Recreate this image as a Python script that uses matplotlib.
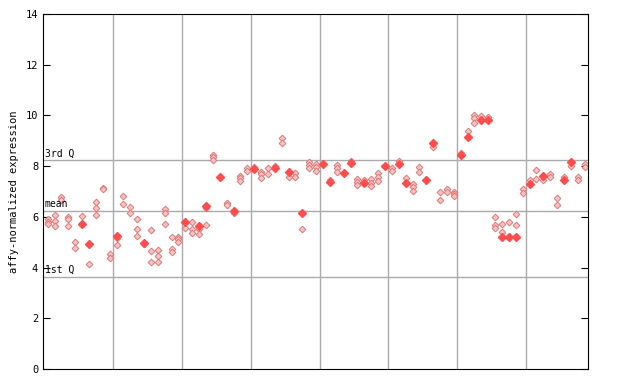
import numpy as np
import matplotlib
matplotlib.use("Agg")
import matplotlib.pyplot as plt

# replicate points (checkered markers), one list per sample
hollow = [
    [5.9, 5.8, 5.7], [6.07, 5.84, 5.65], [6.77, 6.66], [5.98, 5.9, 5.63],
    [5.0, 4.76], [6.03], [4.13], [6.59, 6.34, 6.07], [7.15, 7.09], [4.54, 4.36],
    [5.15, 4.88], [6.81, 6.51], [6.4, 6.14], [5.9, 5.51, 5.23], [4.92],
    [5.48, 4.64, 4.22], [4.69, 4.47, 4.22], [6.32, 6.16, 5.71], [5.19, 4.73, 4.63], [5.22, 5.13, 5.02],
    [5.57], [5.8, 5.52, 5.35], [5.52, 5.31], [6.34, 5.67], [8.44, 8.37, 8.24],
    [], [6.56, 6.45], [6.14], [7.62, 7.52, 7.43], [7.91, 7.82],
    [7.98], [7.77, 7.68, 7.52], [7.91, 7.69], [8.0], [9.1, 8.9],
    [7.58], [7.72, 7.58], [5.51], [8.18, 8.04, 7.91], [8.07, 7.95, 7.82],
    [], [7.45], [8.04, 7.91, 7.78], [], [8.21],
    [7.48, 7.37, 7.26], [7.45], [7.48, 7.35, 7.22], [7.74, 7.58, 7.43], [],
    [7.91, 7.82], [8.21], [7.52], [7.3, 7.16, 7.03], [7.95, 7.78],
    [], [8.77], [6.97, 6.66], [7.09, 6.99], [6.99, 6.9, 6.82],
    [8.53], [9.39], [10.02, 9.89, 9.71], [9.98], [9.93],
    [5.98, 5.68, 5.55], [5.72, 5.39], [5.81], [6.11, 5.68], [7.09, 6.93],
    [7.45], [7.85, 7.48], [7.45], [7.69, 7.58], [6.73, 6.47],
    [7.56], [8.02], [7.56, 7.45], [8.08, 7.98],
]
# solid markers, None where the sample has none
filled = [
    None, None, None, None, None, 5.72, 4.93, None, None, None,
    5.23, None, None, None, 4.96, None, None, None, None, None,
    5.81, None, 5.65, 6.41, None, 7.58, None, 6.24, None, None,
    7.89, None, None, 7.91, None, 7.78, None, 6.16, None, None,
    8.07, 7.36, None, 7.72, 8.11, None, 7.32, None, None, 8.02,
    None, 8.08, 7.35, None, None, 7.45, 8.93, None, None, None,
    8.44, 9.16, None, 9.82, 9.82, None, 5.22, 5.22, 5.19, None,
    7.3, None, 7.61, None, None, 7.45, 8.18, None, None,
]
q3, mean_val, q1 = 8.23, 6.23, 3.63

fig = plt.figure(figsize=(6.4, 3.84), dpi=100)
ax = fig.add_axes([0.0672, 0.039, 0.8516, 0.9245])

for xg in np.arange(9.5, 70, 10):
    ax.axvline(xg, color="#aaaaaa", lw=1, zorder=1)
for yq in (q3, mean_val, q1):
    ax.axhline(yq, color="#aaaaaa", lw=1, zorder=1)

hx = [i for i, vals in enumerate(hollow) for v in vals]
hy = [v for vals in hollow for v in vals]
ax.plot(hx, hy, "D", ms=3.4, mfc="#f4c4c4", mec="#e07878", mew=0.7, ls="none", zorder=2)
fx = [i for i, v in enumerate(filled) if v is not None]
fy = [v for v in filled if v is not None]
ax.plot(fx, fy, "D", ms=4.2, color="#ff4d4d", ls="none", zorder=3)

mono = "DejaVu Sans Mono"
for yq, lab in ((q3, "3rd Q"), (mean_val, "mean"), (q1, "1st Q")):
    ax.text(0.003, yq + 0.08, lab, transform=ax.get_yaxis_transform(),
            fontsize=7, family=mono, va="bottom", ha="left")

ax.set_xlim(-0.68, 78.5)
ax.set_ylim(0, 14)
ax.set_yticks(range(0, 15, 2))
ax.set_xticks([])
ax.tick_params(axis="y", direction="in", length=5, labelsize=7.5, right=True)
for lab in ax.get_yticklabels():
    lab.set_family(mono)
ax.set_ylabel("affy-normalized expression", family=mono, fontsize=7.5, labelpad=5)

fig.savefig("out.png", dpi=100)
